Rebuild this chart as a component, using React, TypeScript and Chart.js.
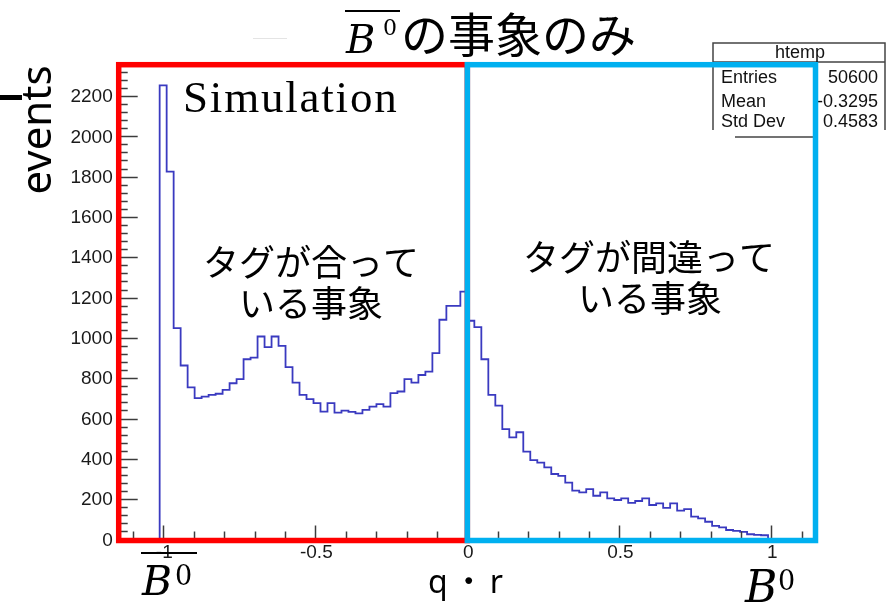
import React, { useEffect, useRef } from 'react';
import { Chart, registerables } from 'chart.js';

Chart.register(...registerables);

// Histogram definition (ROOT htemp: 100 bins on [-1.15, 1.15])
const X_MIN = -1.15;
const X_MAX = 1.15;
const N_BINS = 100;
const Y_MAX = 2360;

// Bin contents
const counts = [
  0, 0, 0, 0, 0, 0,
  2252, 1825, 1048, 863, 755,
  701, 709, 717, 723, 742, 775, 795, 894, 902,
  1007, 954, 1007, 960, 855, 778, 717, 696, 676, 634,
  676, 629, 639, 633, 626, 643, 659, 671, 659, 726,
  734, 795, 778, 816, 833, 924, 1090, 1159, 1159, 1229,
  1085, 1053, 894, 717, 664, 547, 507, 532, 436, 394,
  381, 358, 325, 316, 282, 242, 234, 250, 217, 234,
  204, 196, 204, 182, 191, 204, 171, 179, 157, 179,
  143, 151, 113, 105, 88, 68, 60, 47, 43, 38, 26, 23, 21, 0,
  0, 0, 0, 0, 0, 0,
];

const yTickValues = [0, 200, 400, 600, 800, 1000, 1200, 1400, 1600, 1800, 2000, 2200];
const xTickValues = [-1, -0.5, 0, 0.5, 1];
const xTickLabels = ['-1', '-0.5', '0', '0.5', '1'];

const statsTitle = 'htemp';
const statsLabels = ['Entries', 'Mean', 'Std Dev'];
const statsValues = ['50600', '-0.3295', '0.4583'];

const titleText = 'の事象のみ';
const leftNote = ['タグが合って', 'いる事象'];
const rightNote = ['タグが間違って', 'いる事象'];
const xAxisTitle = 'q・r';
const yAxisTitle = 'events';
const simText = 'Simulation';

function buildOutline() {
  const w = (X_MAX - X_MIN) / N_BINS;
  const pts: { x: number; y: number }[] = [];
  counts.forEach((c, i) => {
    const lo = X_MIN + i * w;
    pts.push({ x: lo, y: c });
    pts.push({ x: lo + w, y: c });
  });
  return pts;
}

function drawBzero(
  ctx: CanvasRenderingContext2D,
  x: number,
  base: number,
  bSize: number,
  supX: number,
  supBase: number,
  supSize: number,
  bar: null | [number, number, number]
) {
  ctx.fillStyle = '#000';
  ctx.textAlign = 'left';
  ctx.textBaseline = 'alphabetic';
  ctx.font = `italic ${bSize}px "DejaVu Serif"`;
  ctx.fillText('B', x, base);
  ctx.font = `${supSize}px "DejaVu Serif"`;
  ctx.fillText('0', supX, supBase);
  if (bar) {
    ctx.strokeStyle = '#000';
    ctx.lineWidth = 2;
    ctx.beginPath();
    ctx.moveTo(bar[0], bar[2]);
    ctx.lineTo(bar[1], bar[2]);
    ctx.stroke();
  }
}

const overlayPlugin = {
  id: 'rootOverlay',
  afterDatasetsDraw(chart: any) {
    const ctx: CanvasRenderingContext2D = chart.ctx;
    const xs = chart.scales.x;
    const ys = chart.scales.y;
    const { left, right, top, bottom } = chart.chartArea;
    ctx.save();

    // y ticks (inward)
    ctx.strokeStyle = '#3c3c3c';
    ctx.lineWidth = 1.5;
    for (let i = 0; i * 40 <= Y_MAX; i++) {
      const v = i * 40;
      const y = Math.round(ys.getPixelForValue(v)) + 0.5;
      const len = i % 5 === 0 ? 20 : 10;
      ctx.beginPath();
      ctx.moveTo(left, y);
      ctx.lineTo(left + len, y);
      ctx.stroke();
    }
    // x ticks (inward)
    for (let i = -11; i <= 11; i++) {
      const x = Math.round(xs.getPixelForValue(i / 10)) + 0.5;
      const len = i % 5 === 0 ? 14 : 8;
      ctx.beginPath();
      ctx.moveTo(x, bottom);
      ctx.lineTo(x, bottom - len);
      ctx.stroke();
    }

    // tick labels
    ctx.fillStyle = '#1a1a1a';
    ctx.font = '19px "Liberation Sans"';
    ctx.textAlign = 'right';
    ctx.textBaseline = 'middle';
    yTickValues.forEach((v) => {
      ctx.fillText(String(v), left - 5, ys.getPixelForValue(v) + 1);
    });
    ctx.textAlign = 'center';
    xTickValues.forEach((v, i) => {
      ctx.fillText(xTickLabels[i], xs.getPixelForValue(v) + 1, bottom + 13);
    });

    // stats box
    const bx0 = 713, bx1 = 885, by0 = 43, by1 = 130;
    ctx.fillStyle = '#fff';
    ctx.fillRect(bx0, by0, bx1 - bx0, by1 - by0);
    ctx.strokeStyle = '#444';
    ctx.lineWidth = 1.5;
    ctx.beginPath();
    ctx.moveTo(bx0, by1);
    ctx.lineTo(bx0, by0);
    ctx.lineTo(bx1, by0);
    ctx.lineTo(bx1, by1);
    ctx.moveTo(bx0, 62);
    ctx.lineTo(bx1, 62);
    ctx.stroke();
    ctx.beginPath();
    ctx.moveTo(735, 137);
    ctx.lineTo(817, 137);
    ctx.stroke();
    ctx.save();
    ctx.beginPath();
    ctx.rect(bx0, by0, bx1 - bx0, by1 - by0 - 1);
    ctx.clip();
    ctx.fillStyle = '#111';
    ctx.font = '18px "Liberation Sans"';
    ctx.textBaseline = 'middle';
    ctx.textAlign = 'center';
    ctx.fillText(statsTitle, 800, 53);
    const rowY = [78, 102, 122];
    statsLabels.forEach((lab, i) => {
      ctx.textAlign = 'left';
      ctx.fillText(lab, 721, rowY[i]);
      ctx.textAlign = 'right';
      ctx.fillText(statsValues[i], 878, rowY[i]);
    });
    ctx.restore();

    // red and blue boxes
    const x0 = xs.getPixelForValue(0);
    ctx.lineWidth = 5.5;
    ctx.strokeStyle = '#ff0000';
    ctx.strokeRect(left + 1, top + 1, x0 - left - 1, bottom - top);
    ctx.strokeStyle = '#00b0f0';
    ctx.strokeRect(x0, top + 1, right - 1.5 - x0, bottom - top);

    // Simulation
    ctx.fillStyle = '#000';
    ctx.font = '45px "Liberation Serif"';
    (ctx as any).letterSpacing = '1.8px';
    ctx.textAlign = 'left';
    ctx.textBaseline = 'alphabetic';
    ctx.fillText(simText, 183, 112);
    (ctx as any).letterSpacing = '0px';

    // Title
    drawBzero(ctx, 346, 53, 40, 383, 35, 22, [345, 400, 11]);
    ctx.fillStyle = '#000';
    ctx.font = '47px "Noto Sans CJK JP"';
    ctx.textAlign = 'left';
    ctx.fillText(titleText, 401, 52);
    // faint artifact
    ctx.strokeStyle = '#e4e4e4';
    ctx.lineWidth = 1;
    ctx.beginPath();
    ctx.moveTo(253, 38.5);
    ctx.lineTo(287, 38.5);
    ctx.stroke();

    // annotations
    ctx.fillStyle = '#000';
    ctx.font = '36px "Noto Sans CJK JP"';
    ctx.textAlign = 'center';
    ctx.textBaseline = 'middle';
    ctx.fillText(leftNote[0], 311, 262);
    ctx.fillText(leftNote[1], 311, 303);
    ctx.fillText(rightNote[0], 649, 257);
    ctx.fillText(rightNote[1], 650, 298);

    // axis titles
    ctx.textBaseline = 'alphabetic';
    ctx.textAlign = 'left';
    ctx.font = '32px "Noto Sans", "Noto Sans CJK JP"';
    (ctx as any).letterSpacing = '5px';
    ctx.fillText(xAxisTitle, 428, 593);
    (ctx as any).letterSpacing = '0px';

    ctx.save();
    ctx.translate(51, 130);
    ctx.rotate(-Math.PI / 2);
    ctx.textAlign = 'center';
    ctx.font = '42px "Noto Sans"';
    ctx.fillText(yAxisTitle, 0, 0);
    ctx.restore();

    ctx.fillStyle = '#000';
    ctx.fillRect(0, 95, 22, 5);

    // B labels under the axis
    drawBzero(ctx, 142, 595, 41, 175, 585, 27, [141, 197, 553]);
    drawBzero(ctx, 745, 602, 44, 778, 590, 27, null);

    ctx.restore();
  },
};

export default function App() {
  const ref = useRef<HTMLCanvasElement | null>(null);
  useEffect(() => {
    if (!ref.current) return;
    const chart = new Chart(ref.current, {
      type: 'line',
      data: {
        datasets: [
          {
            label: 'htemp',
            data: buildOutline(),
            borderColor: '#3a3ac0',
            borderWidth: 1.8,
            pointRadius: 0,
            fill: false,
            tension: 0,
          },
        ],
      },
      options: {
        animation: false,
        responsive: false,
        devicePixelRatio: 1,
        layout: { padding: { left: 117.7, right: 72, top: 63.7, bottom: 67.5 } },
        plugins: { legend: { display: false }, tooltip: { enabled: false }, title: { display: false } },
        scales: {
          x: { type: 'linear', min: X_MIN, max: X_MAX, display: false },
          y: { type: 'linear', min: 0, max: Y_MAX, display: false },
        },
      },
      plugins: [overlayPlugin],
    });
    return () => chart.destroy();
  }, []);
  return (
    <div style={{ position: 'absolute', left: 0, top: 0, width: 889, height: 607, background: '#fff' }}>
      <canvas ref={ref} width={889} height={607} style={{ display: 'block', width: 889, height: 607 }} />
    </div>
  );
}
